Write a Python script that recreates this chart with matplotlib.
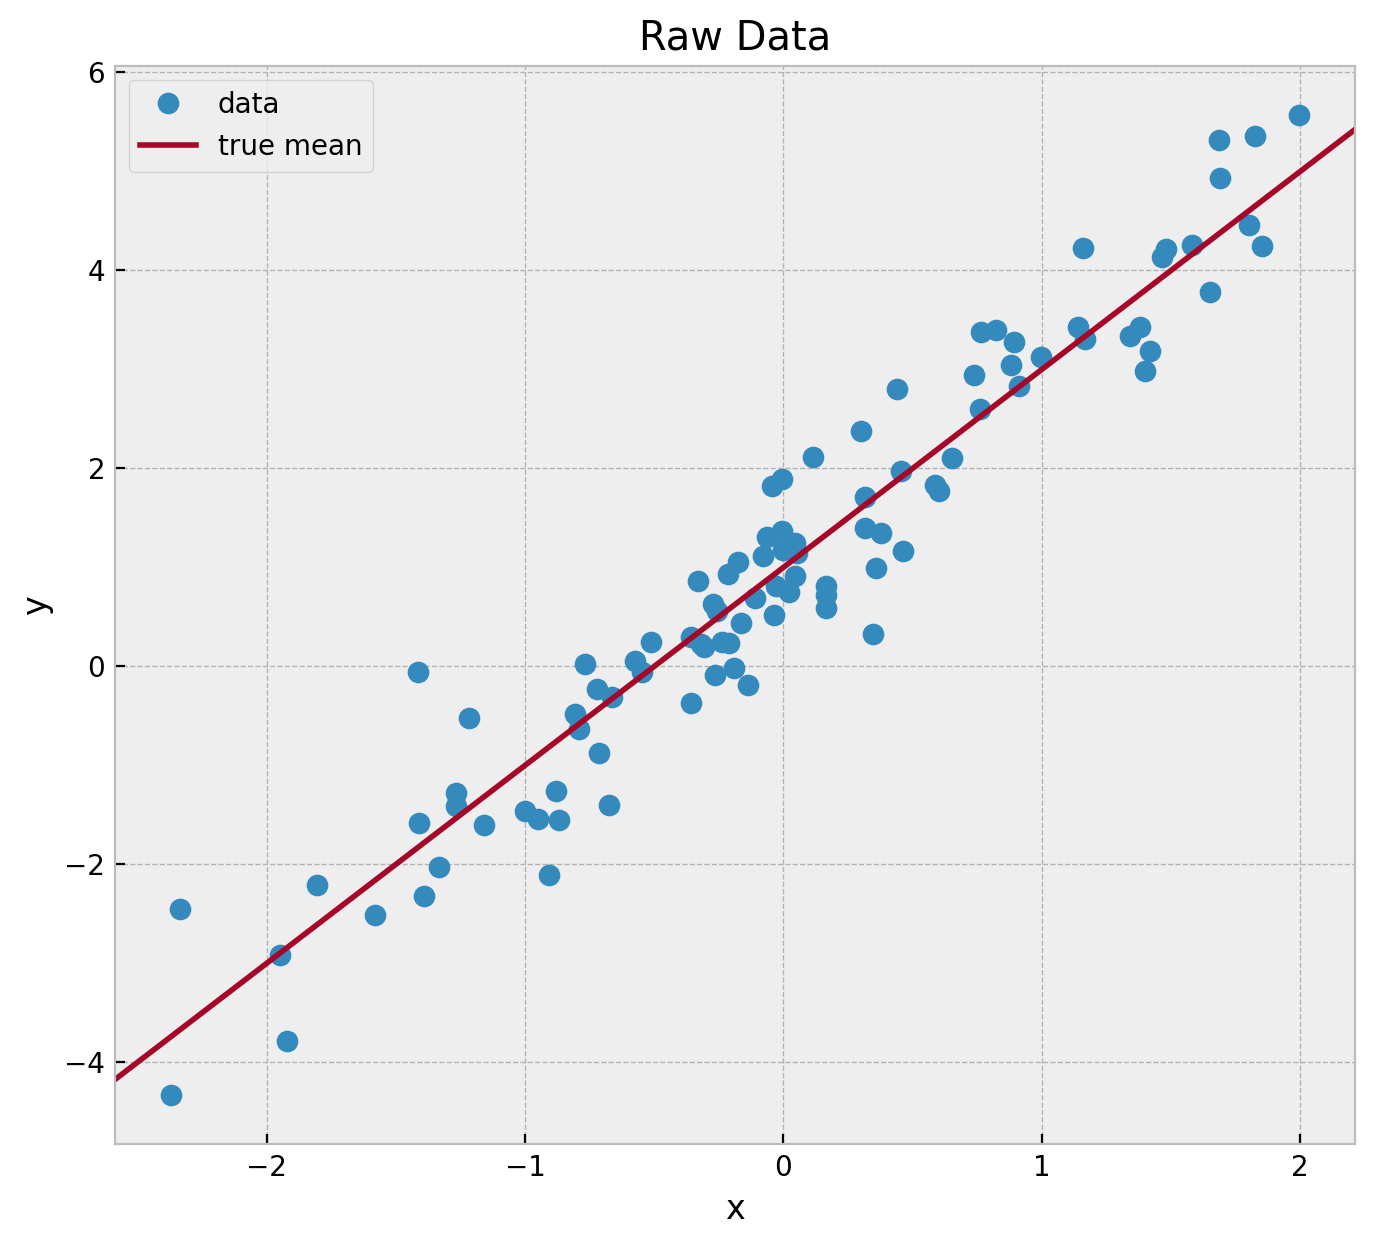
import matplotlib
matplotlib.use("Agg")
import matplotlib.pyplot as plt
import numpy as np

# points
x = [
    1.994, 1.684, 1.824, 1.688, 1.161, 1.463, 1.479, 1.580, 1.800, 1.851,
    1.649, 1.138, 1.165, 1.340, 1.378, 1.417, 1.401, 0.763, 0.821, 0.894,
    0.879, 0.995, 0.736, 0.910, 0.759,
    0.441, 0.302, 0.116, 0.654, 0.453, 0.585, 0.600, 0.317, -0.004, -0.043,
    0.314, 0.376, 0.461, 0.360, 0.348,
    0.166, 0.166, 0.163, -0.062, -0.004, 0.043, 0.000, 0.054, -0.081, -0.174,
    -0.213, -0.329, 0.046, -0.027, 0.023, -0.035, -0.112, -0.166, -0.271, -0.259,
    -0.356, -0.306, -0.321, -0.236, -0.209, -0.511, -0.573, -0.546, -0.767, -0.720,
    -0.662, -0.805, -0.790, -0.712, -0.190, -0.263, -0.136, -0.356,
    -0.879, -0.999, -0.949, -0.867, -0.674, -0.906, -1.266, -1.266, -1.409, -1.158,
    -1.332, -1.390, -1.580, -1.804, -2.334, -1.947, -1.920, -2.369, -1.413, -1.216,
]
y = [
    5.57, 5.32, 5.36, 4.93, 4.23, 4.14, 4.22, 4.26, 4.46, 4.25,
    3.78, 3.43, 3.31, 3.34, 3.43, 3.19, 2.98, 3.38, 3.40, 3.28,
    3.04, 3.13, 2.94, 2.83, 2.60,
    2.80, 2.38, 2.11, 2.10, 1.97, 1.83, 1.77, 1.71, 1.89, 1.82,
    1.40, 1.35, 1.17, 0.99, 0.33,
    0.81, 0.72, 0.59, 1.31, 1.37, 1.25, 1.18, 1.15, 1.11, 1.05,
    0.93, 0.86, 0.91, 0.81, 0.75, 0.52, 0.69, 0.44, 0.63, 0.56,
    0.30, 0.20, 0.23, 0.25, 0.24, 0.25, 0.05, -0.06, 0.02, -0.23,
    -0.31, -0.48, -0.63, -0.88, -0.02, -0.09, -0.19, -0.37,
    -1.26, -1.46, -1.54, -1.55, -1.40, -2.11, -1.28, -1.41, -1.58, -1.60,
    -2.03, -2.32, -2.51, -2.21, -2.45, -2.92, -3.78, -4.33, -0.06, -0.52,
]
intercept = 1.0
slope = 2.0

plt.style.use("bmh")
fig = plt.figure(figsize=(6.875, 6.235), dpi=200)
ax = fig.add_axes([0.0836, 0.0826, 0.9019, 0.8645])

ax.plot(x, y, "o", markersize=6.8, label="data")
ax.set_xlim(-2.587, 2.212)
ax.set_ylim(-4.825, 6.065)
x_line = np.array(ax.get_xlim())
ax.plot(x_line, intercept + slope * x_line, label="true mean")

ax.set_xticks([-2, -1, 0, 1, 2])
ax.set_yticks([-4, -2, 0, 2, 4, 6])
ax.set_title("Raw Data")
ax.set_xlabel("x")
ax.set_ylabel("y")
ax.legend(loc="upper left")

fig.savefig("out.png", dpi=200)
